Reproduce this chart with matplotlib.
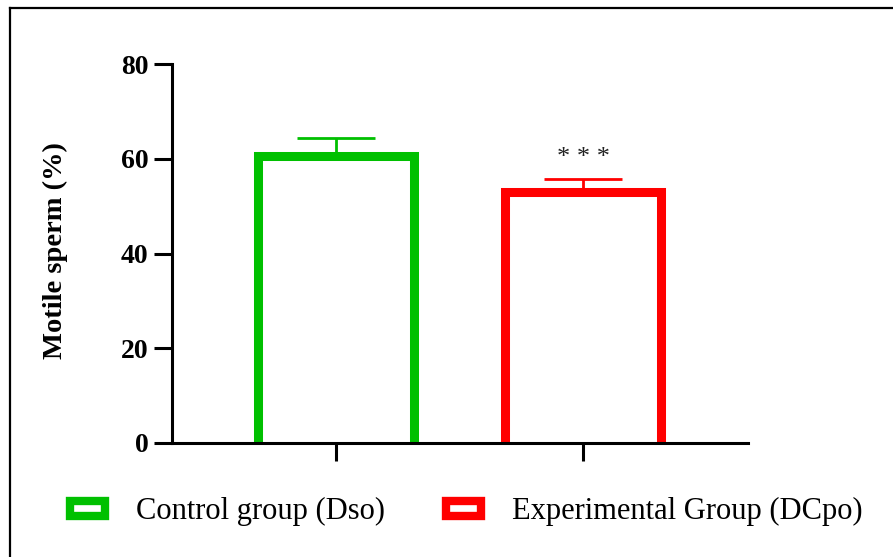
import matplotlib
matplotlib.use("Agg")
import matplotlib.pyplot as plt
import numpy as np
from matplotlib.patches import Patch
from matplotlib.lines import Line2D

# Data
groups = ["Control group (Dso)", "Experimental Group (DCpo)"]
means = [60.6, 53.0]
sem = [3.7, 2.7]
colors = ["#00c000", "#ff0000"]
significance = ["", "***"]
yticks = [0, 20, 40, 60, 80]

plt.rcParams['font.family'] = ['Liberation Serif', 'DejaVu Serif']

W, H = 893, 557
fig = plt.figure(figsize=(W / 100, H / 100), dpi=100)
ax = fig.add_axes([172 / W, (557 - 443) / H, (748 - 172) / W, 379 / H])

x = np.arange(len(groups))
off = 5.0
bar_w = 0.63
for i in range(len(groups)):
    ax.bar(x[i], means[i] + off, bottom=-off, width=bar_w, facecolor="white",
           edgecolor=colors[i], linewidth=6.5, zorder=2, clip_on=True)
    ax.errorbar(x[i], means[i], yerr=[[0], [sem[i]]], fmt="none",
                ecolor=colors[i], elinewidth=2.0, capsize=28, capthick=2.0, zorder=1)
    if significance[i]:
        ax.annotate(significance[i].replace("*", "* ").strip(), (x[i], means[i] + sem[i]),
                    xytext=(0, 7), textcoords="offset points", ha="center", va="bottom",
                    fontsize=19, color="#222222")

ax.set_xlim(-0.664, 1.668)
ax.set_ylim(0, 80)
ax.set_yticks(yticks)
ax.set_xticks(x)
ax.set_xticklabels([])
for s in ["top", "right"]:
    ax.spines[s].set_visible(False)
for s in ["left", "bottom"]:
    ax.spines[s].set_linewidth(2.2)
    ax.spines[s].set_zorder(3)
ax.tick_params(axis="both", width=2.2, length=13, pad=4)
for lab in ax.get_yticklabels():
    lab.set_fontweight("bold")
    lab.set_fontsize(20)
ax.set_ylabel("Motile sperm (%)", fontsize=20.5, fontweight="bold")
ax.yaxis.set_label_coords((68 - 172) / (748 - 172), (443 - 251) / 379)

handles = [Patch(facecolor="white", edgecolor=c, linewidth=6) for c in colors]
fig.legend(handles, groups, loc="center", bbox_to_anchor=(0.522, 0.081), ncol=2,
           frameon=False, fontsize=22, handlelength=1.15, handleheight=0.35,
           handletextpad=1.0, columnspacing=2.0)

# Figure frame (top and left visible)
fig.add_artist(Line2D([9.5 / W, 1.0], [1 - 7.5 / H, 1 - 7.5 / H], color="black", linewidth=1.6))
fig.add_artist(Line2D([9.5 / W, 9.5 / W], [0, 1 - 7.5 / H], color="black", linewidth=1.6))

fig.savefig("out.png", dpi=100)
